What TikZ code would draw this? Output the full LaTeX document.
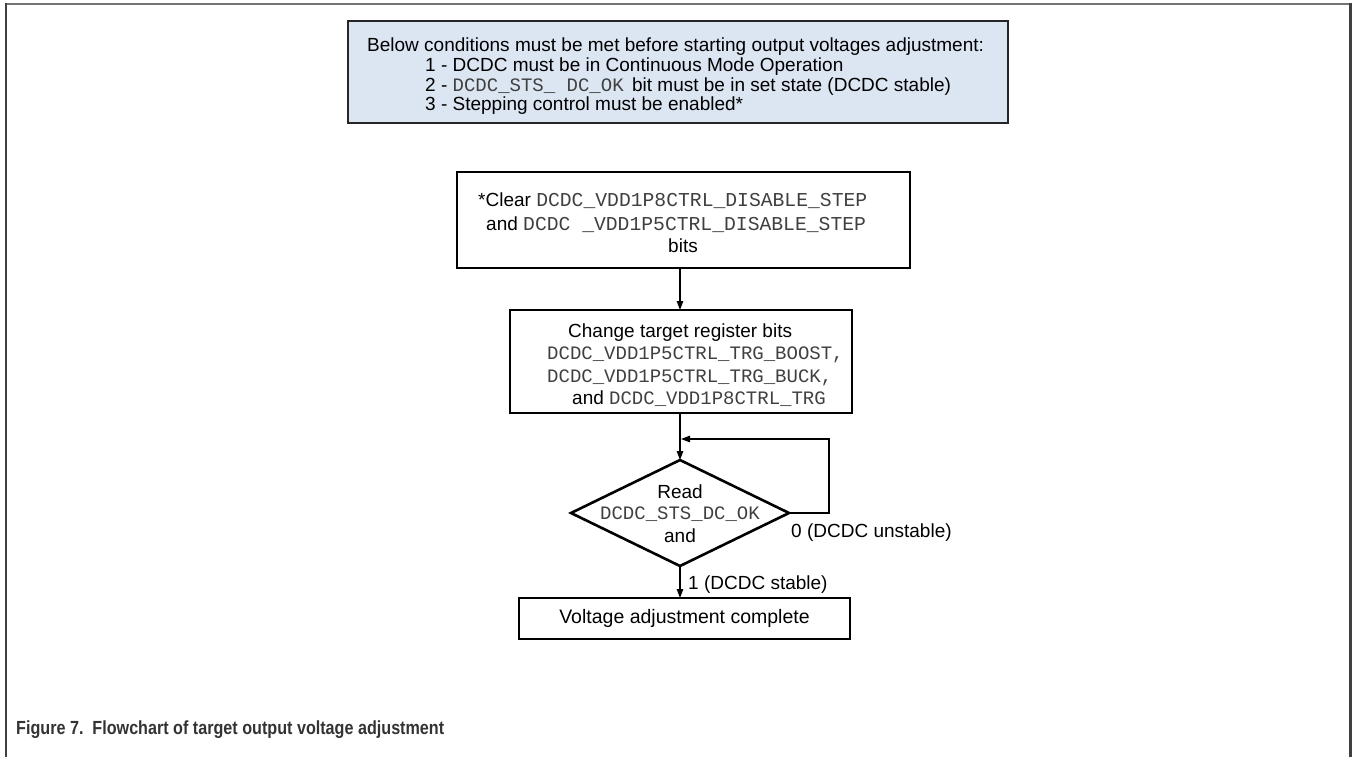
\documentclass[tikz,border=0pt]{standalone}
\usepackage{fontspec}
\setmainfont{Liberation Sans}
\newfontfamily\codefont{Liberation Mono}
\usetikzlibrary{arrows.meta,shapes.geometric}
\definecolor{infofill}{RGB}{220,230,242}
\newcommand{\cd}[2][19]{{\codefont\fontsize{#1}{22}\selectfont\color{black!75}#2}}
\tikzset{
  stepbox/.style={draw, line width=2.6pt, inner sep=0pt, outer sep=0pt},
  infobox/.style={draw=black!85, fill=infofill, line width=1.6pt, inner sep=0pt, outer sep=0pt},
  decision/.style={draw, diamond, line width=2.6pt, inner sep=0pt, outer sep=0pt, aspect=2},
  conn/.style={-{Triangle[length=9pt,width=6.5pt]}, line width=1.2pt},
  txt/.style={font=\fontsize{19}{22}\selectfont, inner sep=0pt, anchor=base west},
  ctxt/.style={font=\fontsize{19}{22}\selectfont, inner sep=0pt, anchor=base},
  frame/.style={line width=2.4pt}
}
\begin{document}
\begin{tikzpicture}[x=1pt,y=-1pt]
\useasboundingbox (0,0) rectangle (1353,757);
% outer frame
\draw[frame, black!55] (5,4) -- (1352,4);
\draw[frame, black!75] (6.2,3) -- (6.2,757);
\draw[frame, black!75] (1350.5,3) -- (1350.5,757);

% info box
\node[infobox, minimum width=660pt, minimum height=102pt] (info) at (678,72) {};
\node[txt] (r1) at (367,52) {Below conditions must be met before starting output voltages adjustment:};
\node[txt] (r2) at (425,72) {1 - DCDC must be in Continuous Mode Operation};
\node[txt] (r3) at (425,91.5) {2 - \cd{DCDC\_STS\_ DC\_OK} \,bit must be in set state (DCDC stable)};
\node[txt] (r4) at (425,111) {3 - Stepping control must be enabled*};

% box 1
\node[stepbox, minimum width=453pt, minimum height=96pt] (clear) at (683.5,220) {};
\node[txt] (c1) at (478,206.5) {*Clear \cd[19.7]{DCDC\_VDD1P8CTRL\_DISABLE\_STEP}};
\node[txt] (c2) at (486,230.5) {and \cd[19.7]{DCDC \_VDD1P5CTRL\_DISABLE\_STEP}};
\node[ctxt] (c3) at (683,252) {bits};

% box 2
\node[stepbox, minimum width=342pt, minimum height=103pt] (change) at (681,361.5) {};
\node[txt] (t1) at (568,337) {Change target register bits};
\node[txt] (t2) at (547,359.5) {\cd{DCDC\_VDD1P5CTRL\_TRG\_BOOST,}};
\node[txt] (t3) at (547,382.5) {\cd{DCDC\_VDD1P5CTRL\_TRG\_BUCK,}};
\node[txt] (t4) at (572,404.5) {and \cd{DCDC\_VDD1P8CTRL\_TRG}};

% decision
\node[decision, minimum width=218pt, minimum height=106pt] (read) at (680,513) {};
\node[ctxt] (d1) at (680,498) {Read};
\node[ctxt] (d2) at (680,519) {\cd{DCDC\_STS\_DC\_OK}};
\node[ctxt] (d3) at (680,542) {and};

% final box
\node[stepbox, minimum width=331pt, minimum height=41pt, font=\fontsize{19.5}{22}\selectfont] (done) at (684.5,618.5) {Voltage adjustment complete};

% connectors
\draw[conn] (clear.south -| read.north) -- (change.north -| read.north);
\draw[conn] (change.south -| read.north) -- (read.north);
\draw[conn] (read.south) -- (done.north -| read.south);
\coordinate (lr) at (829,513);
\coordinate (lt) at (829,439);
\coordinate (lj) at (681,439);
\draw[conn] (read.east) -- (lr) -- (lt) -- (lj);

% labels
\node[txt] (l0) at (791,537) {0 (DCDC unstable)};
\node[txt] (l1) at (688,589) {1 (DCDC stable)};

% caption
\node[txt, font=\fontsize{19}{22}\selectfont\bfseries, text=black!80] (cap) at (16,734) {\scalebox{0.85}[1]{Figure 7.\ \ Flowchart of target output voltage adjustment}};
\end{tikzpicture}
\end{document}
